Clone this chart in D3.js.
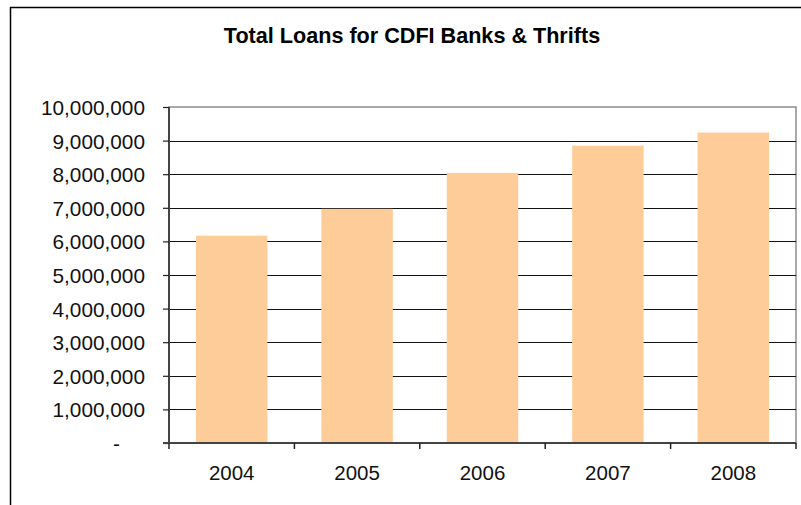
<!DOCTYPE html>
<html>
<head>
<meta charset="utf-8">
<script src="https://cdn.jsdelivr.net/npm/d3@7"></script>
<style>
  html, body { margin: 0; padding: 0; background: #fff; }
  svg { display: block; font-family: "Liberation Sans", Arial, sans-serif; }
</style>
</head>
<body>
<div id="chart"></div>
<script>
// chart data
const years = ['2004', '2005', '2006', '2007', '2008'];
const totalLoans = [6170000, 6970000, 8040000, 8850000, 9240000];
const yTicks = [0, 1000000, 2000000, 3000000, 4000000, 5000000, 6000000, 7000000, 8000000, 9000000, 10000000];
const yTickLabels = ['-', '1,000,000', '2,000,000', '3,000,000', '4,000,000', '5,000,000',
  '6,000,000', '7,000,000', '8,000,000', '9,000,000', '10,000,000'];
const chartTitle = 'Total Loans for CDFI Banks & Thrifts';

// size of the page and the plot area
const width = 801;
const height = 505;
const plot = { left: 169, right: 796, top: 107, bottom: 443 };

const svg = d3.select('#chart')
  .append('svg')
    .attr('width', width)
    .attr('height', height);

// outer chart border (runs off the right and bottom of the picture)
svg.append('rect')
  .attr('x', 10.5)
  .attr('y', 7.5)
  .attr('width', 820)
  .attr('height', 520)
  .attr('fill', 'none')
  .attr('stroke', '#000')
  .attr('stroke-width', 1.5);

// title
svg.append('text')
  .attr('x', 412)
  .attr('y', 42.5)
  .attr('text-anchor', 'middle')
  .style('font-size', '21.6px')
  .style('font-weight', 'bold')
  .attr('fill', '#000')
  .text(chartTitle);

// scales
const x = d3.scaleBand()
  .domain(years)
  .range([plot.left, plot.right])
  .paddingInner(0.43)
  .paddingOuter(0.215);

const y = d3.scaleLinear()
  .domain([0, 10000000])
  .range([plot.bottom, plot.top]);

// plot area border (grey)
svg.append('rect')
  .attr('x', plot.left)
  .attr('y', plot.top)
  .attr('width', plot.right - plot.left)
  .attr('height', plot.bottom - plot.top)
  .attr('fill', 'none')
  .attr('stroke', '#8c8c8c')
  .attr('stroke-width', 1.5);

// gridlines (skip the top one, it is the border)
svg.append('g')
  .selectAll('line')
  .data(yTicks.filter(d => d > 0 && d < 10000000))
  .join('line')
    .attr('x1', plot.left)
    .attr('x2', plot.right)
    .attr('y1', d => Math.round(y(d)) + 0.5)
    .attr('y2', d => Math.round(y(d)) + 0.5)
    .attr('stroke', '#111')
    .attr('stroke-width', 1.2);

// bars
svg.append('g')
  .selectAll('rect')
  .data(totalLoans)
  .join('rect')
    .attr('x', (d, i) => x(years[i]))
    .attr('y', d => y(d))
    .attr('width', x.bandwidth())
    .attr('height', d => plot.bottom - y(d))
    .attr('fill', '#fecc99');

// y axis
const yAxis = svg.append('g')
  .attr('transform', `translate(${plot.left},0)`)
  .call(d3.axisLeft(y)
    .tickValues(yTicks)
    .tickSize(6)
    .tickFormat((d, i) => yTickLabels[i]));
yAxis.select('.domain')
  .attr('d', `M0,${plot.top}V${plot.bottom}`)
  .attr('stroke', '#444')
  .attr('stroke-width', 2);
yAxis.selectAll('.tick line')
  .attr('stroke', '#222')
  .attr('stroke-width', 1.2);
yAxis.selectAll('.tick text')
  .attr('x', -24)
  .attr('dy', '0.36em')
  .attr('fill', '#111')
  .style('font-size', '20.8px')
  .style('font-family', '"Liberation Sans", Arial, sans-serif')
  // the zero dash is padded like the accounting format
  .attr('dx', (d) => d === 0 ? -25 : 0);

// x axis
const xAxis = svg.append('g')
  .attr('transform', `translate(0,${plot.bottom})`);
xAxis.append('line')
  .attr('x1', plot.left - 6)
  .attr('x2', plot.right)
  .attr('stroke', '#444')
  .attr('stroke-width', 2);
// category boundary ticks
const step = x.step();
xAxis.selectAll('.xtick')
  .data(d3.range(years.length + 1))
  .join('line')
    .attr('class', 'xtick')
    .attr('x1', i => plot.left + i * step)
    .attr('x2', i => plot.left + i * step)
    .attr('y1', 0)
    .attr('y2', 6)
    .attr('stroke', '#222')
    .attr('stroke-width', 1.5);
xAxis.selectAll('.xlabel')
  .data(years)
  .join('text')
    .attr('class', 'xlabel')
    .attr('x', d => x(d) + x.bandwidth() / 2)
    .attr('y', 37)
    .attr('text-anchor', 'middle')
    .attr('fill', '#111')
    .style('font-size', '20.5px')
    .text(d => d);
</script>
</body>
</html>
